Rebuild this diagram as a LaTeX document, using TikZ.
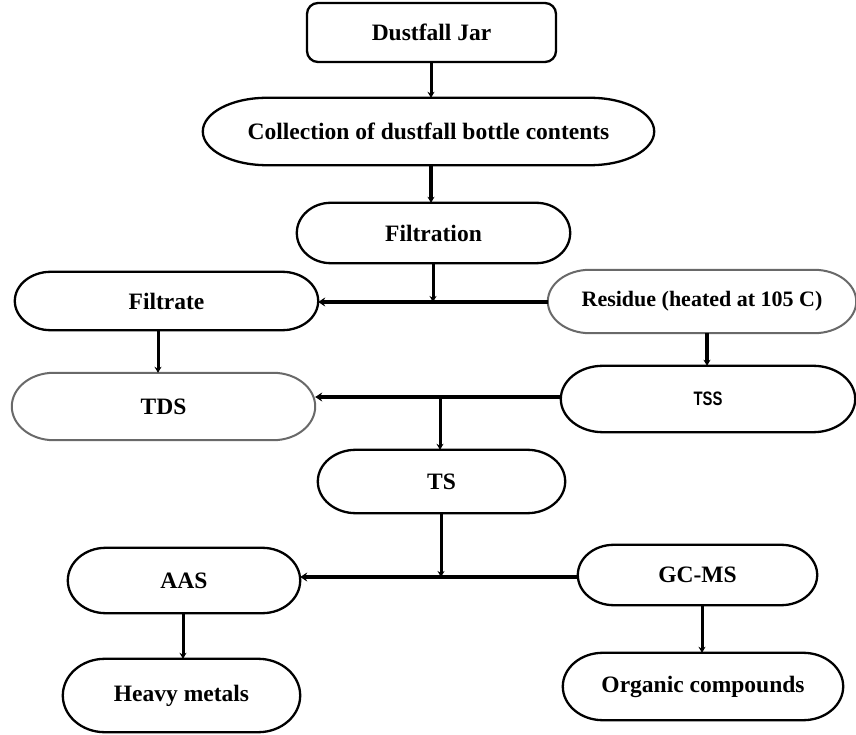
\documentclass[tikz,border=0pt]{standalone}
\usepackage{fontspec}
\setmainfont{Liberation Serif}
\newfontfamily\tssfont{Liberation Sans}
\usetikzlibrary{calc,arrows.meta}
\definecolor{bordergray}{RGB}{105,105,105}
\newcommand\stadiumoutline[3]{%
  \draw[#3] let \p1=(#1.north west), \p2=(#1.south east), \n1={(\y1-\y2)/2} in
    (\x1+#2pt,\y1) -- (\x2-#2pt,\y1)
    arc[start angle=90, end angle=-90, x radius=#2pt, y radius=\n1]
    -- (\x1+#2pt,\y2)
    arc[start angle=270, end angle=90, x radius=#2pt, y radius=\n1] -- cycle;}
\tikzset{
  box/.style={draw=none, inner sep=0pt, align=center,
    font=\fontsize{23.5}{28}\selectfont\bfseries},
  blackline/.style={line width=2.3pt, draw=black},
  grayline/.style={line width=2.0pt, draw=bordergray},
  vline/.style={line width=3pt, -{Stealth[length=6pt,width=7pt]}},
  hline/.style={line width=4pt, -{Stealth[length=7pt,width=9pt]}}
}
\begin{document}
\begin{tikzpicture}[x=1pt,y=1pt]
\useasboundingbox[fill=white] (0,0) rectangle (856,734);
% nodes
\node[draw=black, line width=2.3pt, rounded corners=11pt, minimum width=249pt, minimum height=59pt,
  inner sep=0pt, font=\fontsize{23.5}{28}\selectfont\bfseries] (jar) at (431.5,701.5) {Dustfall Jar};
\node[box, minimum width=451pt, minimum height=67pt] (coll) at (428.5,602.5) {Collection of dustfall bottle contents};
\node[box, minimum width=273pt, minimum height=60pt] (filt) at (433.5,501) {Filtration};
\node[box, minimum width=303pt, minimum height=58pt] (filtrate) at (166.5,433) {Filtrate};
\node[box, minimum width=308pt, minimum height=63pt, font=\fontsize{22}{26}\selectfont\bfseries] (residue) at (702,432.5) {Residue (heated at 105 C)};
\node[box, minimum width=303pt, minimum height=67pt] (tds) at (163.5,327.5) {TDS};
\node[box, minimum width=294pt, minimum height=66pt, font=\tssfont\fontsize{19.5}{22}\selectfont\bfseries] (tss) at (708,335) {\scalebox{0.76}[1]{TSS}};
\node[box, minimum width=247pt, minimum height=63pt] (ts) at (441.5,252.5) {TS};
\node[box, minimum width=232pt, minimum height=65pt] (aas) at (184,153.5) {AAS};
\node[box, minimum width=239pt, minimum height=60pt] (gcms) at (697.5,159) {GC-MS};
\node[box, minimum width=237pt, minimum height=73pt] (heavy) at (181.5,38.5) {Heavy metals};
\node[box, minimum width=280pt, minimum height=67pt] (organic) at (703,47.5) {Organic compounds};
% outlines
\stadiumoutline{coll}{64}{blackline}
\stadiumoutline{filt}{34}{blackline}
\stadiumoutline{filtrate}{36}{blackline}
\stadiumoutline{residue}{42}{grayline}
\stadiumoutline{tds}{42}{grayline}
\stadiumoutline{tss}{42}{blackline}
\stadiumoutline{ts}{38}{blackline}
\stadiumoutline{aas}{38}{blackline}
\stadiumoutline{gcms}{36}{blackline}
\stadiumoutline{heavy}{42}{blackline}
\stadiumoutline{organic}{40}{blackline}
% junctions and guide coordinates
\coordinate (cx) at (431,0);
\coordinate (j1) at (433,432);
\coordinate (j2) at (440,337);
\coordinate (j3) at (441,157);
\coordinate (fx) at (158,0);
\coordinate (rx) at (707,0);
\coordinate (ax) at (183,0);
\coordinate (gx) at (702,0);
% connectors
\draw[vline] (jar.south -| cx) -- (coll.north -| cx);
\draw[vline, line width=3.5pt] (coll.south -| cx) -- (filt.north -| cx);
\draw[vline] (filt.south -| j1) -- (j1);
\draw[hline] (residue.west |- j1) -- (filtrate.east |- j1);
\draw[vline] (filtrate.south -| fx) -- (tds.north -| fx);
\draw[vline, line width=3.5pt] (residue.south -| rx) -- (tss.north -| rx);
\draw[hline] (tss.west |- j2) -- (tds.east |- j2);
\draw[vline] (j2) -- (ts.north -| j2);
\draw[vline] (ts.south -| j3) -- (j3);
\draw[hline] (gcms.west |- j3) -- (aas.east |- j3);
\draw[vline] (aas.south -| ax) -- (heavy.north -| ax);
\draw[vline] (gcms.south -| gx) -- (organic.north -| gx);
\end{tikzpicture}
\end{document}
